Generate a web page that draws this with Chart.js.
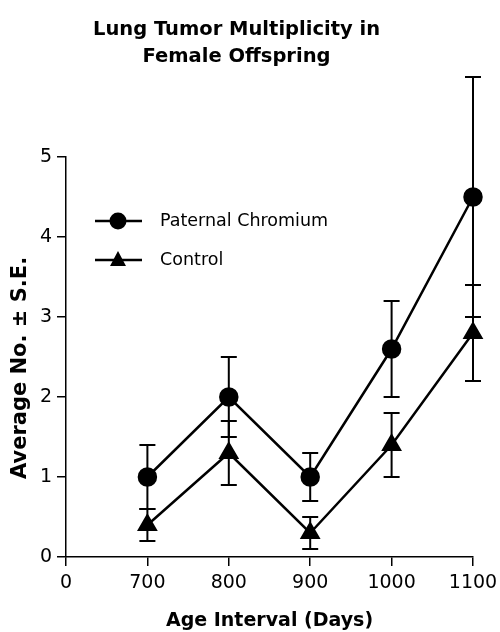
<!DOCTYPE html>
<html>
<head>
<meta charset="utf-8">
<script src="https://cdn.jsdelivr.net/npm/chart.js@4"></script>
<style>
  html, body { margin: 0; padding: 0; background: #fff; }
  #wrap { width: 500px; height: 632px; }
</style>
</head>
<body>
<div id="wrap"><canvas id="tumorChart" width="500" height="632"></canvas></div>
<script>
// Données
const ageLabels = ['0', '700', '800', '900', '1000', '1100'];
const chromiumMeans = [null, 1.0, 2.0, 1.0, 2.6, 4.5];
const chromiumSE = [null, 0.4, 0.5, 0.3, 0.6, 1.5];
const controlMeans = [null, 0.4, 1.3, 0.3, 1.4, 2.8];
const controlSE = [null, 0.2, 0.4, 0.2, 0.4, 0.6];
const seriesNames = ['Paternal Chromium', 'Control'];
const yTicks = [0, 1, 2, 3, 4, 5];

const FONT = '"DejaVu Sans", sans-serif';

// Barres d'erreur (± S.E.)
const errorBars = {
    id: 'errorBars',
    afterDatasetsDraw(chart) {
        const ctx = chart.ctx;
        const y = chart.scales.y;
        ctx.save();
        ctx.strokeStyle = '#000';
        ctx.lineWidth = 2;
        chart.data.datasets.forEach((ds, i) => {
            const meta = chart.getDatasetMeta(i);
            ds.data.forEach((v, j) => {
                if (v == null) return;
                const err = ds.errors[j];
                const px = meta.data[j].x;
                const top = y.getPixelForValue(v + err);
                const bot = y.getPixelForValue(v - err);
                ctx.beginPath();
                ctx.moveTo(px, top); ctx.lineTo(px, bot);
                ctx.moveTo(px - 8, top); ctx.lineTo(px + 8, top);
                ctx.moveTo(px - 8, bot); ctx.lineTo(px + 8, bot);
                ctx.stroke();
            });
        });
        ctx.restore();
    }
};

// Légende dessinée dans la zone du graphique
const insideLegend = {
    id: 'insideLegend',
    afterDraw(chart) {
        const ctx = chart.ctx;
        ctx.save();
        chart.data.datasets.forEach((ds, i) => {
            const cy = 221 + i * 39;
            ctx.strokeStyle = '#000';
            ctx.lineWidth = 2.5;
            ctx.beginPath();
            ctx.moveTo(95, cy); ctx.lineTo(142, cy);
            ctx.stroke();
            ctx.fillStyle = '#000';
            ctx.beginPath();
            if (ds.pointStyle === 'triangle') {
                ctx.moveTo(118, cy - 9);
                ctx.lineTo(126, cy + 6);
                ctx.lineTo(110, cy + 6);
                ctx.closePath();
            } else {
                ctx.arc(118, cy, 8.5, 0, Math.PI * 2);
            }
            ctx.fill();
            ctx.font = '17.5px ' + FONT;
            ctx.textBaseline = 'middle';
            ctx.fillText(ds.label, 160, cy);
        });
        ctx.restore();
    }
};

const tumorChart = new Chart(document.getElementById('tumorChart'), {
    type: 'line',
    data: {
        labels: ageLabels,
        datasets: [
            {
                label: seriesNames[0],
                data: chromiumMeans,
                errors: chromiumSE,
                borderColor: '#000',
                backgroundColor: '#000',
                borderWidth: 2.5,
                pointStyle: 'circle',
                pointRadius: 8.5,
                pointHoverRadius: 8.5,
                tension: 0,
                clip: false
            },
            {
                label: seriesNames[1],
                data: controlMeans,
                errors: controlSE,
                borderColor: '#000',
                backgroundColor: '#000',
                borderWidth: 2.5,
                pointStyle: 'triangle',
                pointRadius: 9.5,
                pointHoverRadius: 9.5,
                tension: 0,
                clip: false
            }
        ]
    },
    options: {
        responsive: false,
        animation: false,
        devicePixelRatio: 1,
        layout: { padding: { left: 0, right: 27, top: 0, bottom: 0 } },
        plugins: {
            legend: { display: false },
            tooltip: { enabled: false },
            title: {
                display: true,
                text: ['Lung Tumor Multiplicity in', 'Female Offspring'],
                color: '#000',
                font: { family: FONT, size: 19.5, weight: 'bold', lineHeight: 27 / 19.5 },
                padding: { top: 16.5, bottom: 86.5 }
            }
        },
        scales: {
            x: {
                type: 'category',
                offset: false,
                grid: { drawOnChartArea: false, tickLength: 9, color: '#000', lineWidth: 1.5 },
                border: { color: '#000', width: 1.5 },
                ticks: { color: '#000', font: { family: FONT, size: 19 }, padding: 6, maxRotation: 0, autoSkip: false },
                title: {
                    display: true,
                    text: 'Age Interval (Days)',
                    color: '#000',
                    font: { family: FONT, size: 19, weight: 'bold' },
                    padding: { top: 0, bottom: 0 }
                },
                afterFit(scale) {
                    scale.height = 75;
                    scale.paddingRight = 0;
                    scale.paddingLeft = 0;
                }
            },
            y: {
                min: 0,
                max: 5,
                grid: { drawOnChartArea: false, tickLength: 9, color: '#000', lineWidth: 1.5 },
                border: { color: '#000', width: 1.5 },
                afterBuildTicks(scale) { scale.ticks = yTicks.map(v => ({ value: v })); },
                ticks: { color: '#000', font: { family: FONT, size: 19 }, padding: 5 },
                title: {
                    display: true,
                    text: 'Average No. \u00B1 S.E.\u00A0\u00A0\u00A0',
                    color: '#000',
                    font: { family: FONT, size: 21, weight: 'bold' },
                    padding: { top: 8, bottom: 0 }
                },
                afterFit(scale) { scale.width = 66; }
            }
        }
    },
    plugins: [errorBars, insideLegend]
});
</script>
</body>
</html>
